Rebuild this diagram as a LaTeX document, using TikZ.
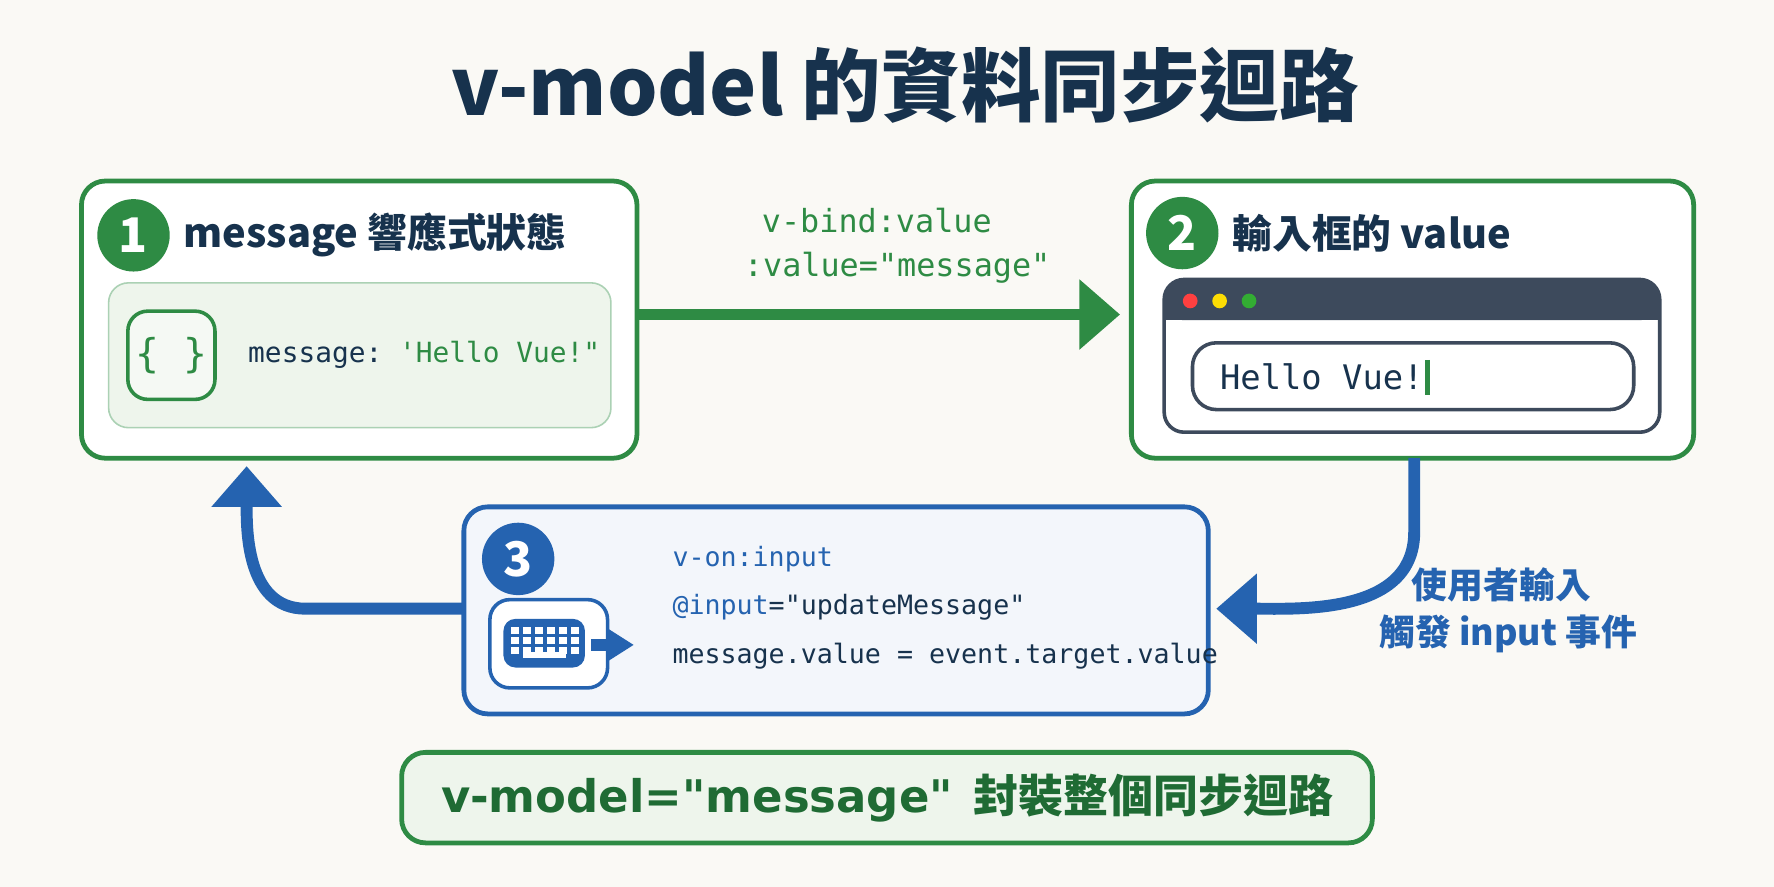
\documentclass[tikz,border=0pt]{standalone}
\usepackage{fontspec}
\setmainfont{Noto Sans CJK TC}
\setmonofont{DejaVu Sans Mono}
\newfontfamily\latin{DejaVu Sans}
\usetikzlibrary{arrows.meta,positioning}
\definecolor{navy}{HTML}{17324D}
\definecolor{vgreen}{HTML}{2E8B44}
\definecolor{dgreen}{HTML}{1F6B34}
\definecolor{lgreen}{HTML}{EEF5EC}
\definecolor{vblue}{HTML}{2563B0}
\definecolor{lblue}{HTML}{F3F6FB}
\definecolor{bar}{HTML}{3D4A5C}
\definecolor{paper}{HTML}{FAF9F5}
\newcommand{\dq}{\symbol{34}}
\tikzset{
  panel/.style={draw=vgreen, line width=1.2pt, fill=white, rounded corners=6pt},
  badge/.style={circle, fill=#1, text=white, inner sep=0pt, minimum size=6.4mm, font=\bfseries\fontsize{12}{12}\selectfont},
  head/.style={anchor=west, text=navy, font=\bfseries\fontsize{10}{12}\selectfont},
  code/.style={anchor=west, text=navy, font=\ttfamily\fontsize{6.7}{9}\selectfont},
  flow/.style={line width=3pt, -{Triangle[length=3.6mm,width=6mm]}}
}
\begin{document}
\begin{tikzpicture}[x=0.1mm, y=-0.1mm]
  \useasboundingbox[fill=paper] (0,0) rectangle (1568,784);
  \node[text=navy, font=\bfseries\fontsize{20}{24}\selectfont] (title) at (800,75) {v-model 的資料同步迴路};

  % box 1
  \draw[panel] (72,160) rectangle (563,405);
  \coordinate (b1) at (563,278);
  \node[badge=vgreen] (n1) at (118,208) {1};
  \node[head] (t1) at (150,208) {message 響應式狀態};
  \draw[draw=vgreen!40, fill=lgreen, rounded corners=5pt] (96,250) rectangle (540,378);
  \draw[draw=vgreen, fill=lgreen!60, line width=0.9pt, rounded corners=5pt] (113,275) rectangle (190,353);
  \node[text=vgreen, font=\ttfamily\fontsize{10}{12}\selectfont] (brace) at (151.5,314) {\{ \}};
  \node[code, font=\ttfamily\fontsize{7}{9}\selectfont] (msg) at (207,314) {message: \textcolor{vgreen}{'Hello Vue!\dq}};

  % box 2
  \draw[panel] (1000,160) rectangle (1497,405);
  \coordinate (b2) at (990,278);
  \node[badge=vgreen] (n2) at (1045,206) {2};
  \node[head] (t2) at (1077,206) {輸入框的 value};
  \draw[draw=bar, fill=white, line width=0.9pt, rounded corners=5pt] (1029,247) rectangle (1467,382);
  \fill[bar, rounded corners=5pt] (1029,247) rectangle (1467,283);
  \fill[bar] (1029,270) rectangle (1467,283);
  \fill[red!75] (1052,266) circle (6.5);
  \fill[yellow!80!orange] (1078,266) circle (6.5);
  \fill[green!60!black!80] (1104,266) circle (6.5);
  \draw[draw=bar, line width=0.9pt, rounded corners=6pt] (1054,303) rectangle (1444,362);
  \node[code, font=\ttfamily\fontsize{8.5}{11}\selectfont] (hello) at (1066,333) {Hello Vue!};
  \draw[vgreen, line width=1.3pt] (1262,318) -- (1262,349);
  \coordinate (w2) at (1250,405);

  % arrow 1 -> 2
  \draw[flow, vgreen] (b1) -- (b2);
  \node[text=vgreen, font=\ttfamily\fontsize{8}{10}\selectfont] (bind) at (775,195) {v-bind:value};
  \node[text=vgreen, font=\ttfamily\fontsize{8}{10}\selectfont] (val) at (793,237) {:value=\dq message\dq};

  % box 3
  \draw[draw=vblue, line width=1.2pt, fill=lblue, rounded corners=6pt] (410,448) rectangle (1068,631);
  \node[badge=vblue] (n3) at (458,494) {3};
  \draw[draw=vblue, fill=white, line width=0.9pt, rounded corners=5pt] (433,530) rectangle (537,608);
  \fill[vblue, rounded corners=3pt] (445,547) rectangle (517,590);
  \foreach \r in {0,1,2} \foreach \c in {0,...,5}
    \fill[white] (452+\c*10.5,554+\r*9) rectangle +(7,6);
  \fill[white] (462,576) rectangle (500,582);
  \fill[vblue] (522,565) rectangle (540,575);
  \fill[vblue] (538,556) -- (560,570) -- (538,584) -- cycle;
  \node[code, text=vblue] (on) at (582,494) {v-on:input};
  \node[code] (at) at (582,537) {\textcolor{vblue}{@input}=\dq updateMessage\dq};
  \node[code] (set) at (582,580) {message.value = event.target.value};
  \coordinate (b3r) at (1075,538);
  \coordinate (b3l) at (410,538);
  \coordinate (b1b) at (218,412);

  % return arrows
  \draw[flow, vblue] (w2) -- (1250,470) to[out=-90, in=0] (b3r);
  \draw[flow, vblue] (b3l) -- (270,538) to[out=180, in=-90] (b1b);
  \node[text=vblue, font=\bfseries\fontsize{9}{11}\selectfont] (user) at (1327,517) {使用者輸入};
  \node[text=vblue, font=\bfseries\fontsize{9}{11}\selectfont] (fire) at (1333,560) {觸發 input 事件};

  % summary
  \draw[draw=vgreen, line width=1.2pt, fill=lgreen, rounded corners=6pt] (355,665) rectangle (1213,745);
  \node[text=dgreen, font=\bfseries\fontsize{11.3}{14}\selectfont] (sum) at (784,705) {{\latin\bfseries v-model=\dq message\dq}\ \ 封裝整個同步迴路};
\end{tikzpicture}
\end{document}
